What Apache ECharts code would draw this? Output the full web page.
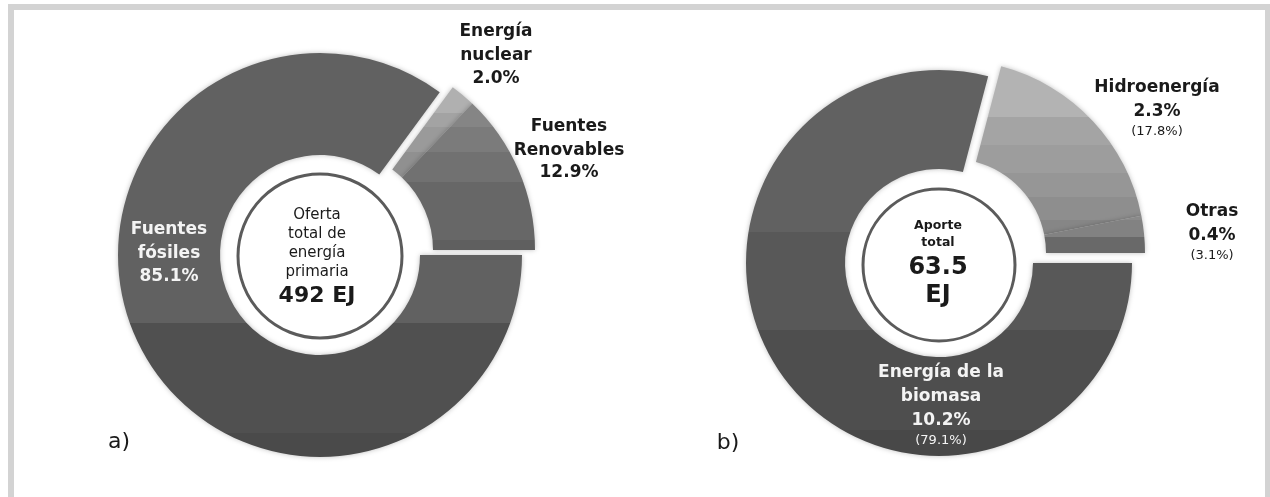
<!DOCTYPE html>
<html>
<head>
<meta charset="utf-8">
<script src="https://cdn.jsdelivr.net/npm/echarts@6/dist/echarts.min.js"></script>
<style>
  html, body { margin: 0; padding: 0; background: #ffffff; overflow: hidden; }
  #chart { width: 1270px; height: 497px; }
</style>
</head>
<body>
<div id="chart"></div>
<script>
// ---- Data ----
// a) Oferta total de energía primaria (492 EJ), shares in %
const leftNames = ['Energía\nnuclear', 'Fuentes\nRenovables', 'Fuentes\nfósiles'];
const leftValues = [2.0, 12.9, 85.1];
const leftCenterLines = ['Oferta', 'total de', 'energía', 'primaria'];
const leftTotal = '492 EJ';

// b) Aporte de las renovables (63.5 EJ): share of total primary energy, and (share of renewables)
const rightNames = ['Hidroenergía', 'Otras', 'Energía de la\nbiomasa'];
const rightShareTotal = [2.3, 0.4, 10.2];
const rightValues = [17.8, 3.1, 79.1];
const rightCenterLines = ['Aporte', 'total'];
const rightTotal = ['63.5', 'EJ'];

const panelTags = ['a)', 'b)'];

// ---- Styles ----
const H = 497;
function bandFill(bands) {
  const cs = [];
  for (let i = 0; i < bands.length; i++) {
    const y0 = bands[i][0] / H;
    const y1 = (i + 1 < bands.length ? bands[i + 1][0] : H) / H;
    cs.push({ offset: y0, color: bands[i][1] }, { offset: y1, color: bands[i][1] });
  }
  return { type: 'linear', x: 0, y: 0, x2: 0, y2: H, global: true, colorStops: cs };
}
const leftFills = [
  bandFill([[0, '#b0b0b0'], [113, '#a3a3a3'], [127, '#9a9a9a'], [152, '#909090']]),
  bandFill([[0, '#858585'], [127, '#7b7b7b'], [152, '#717171'], [182, '#676767'], [240, '#5f5f5f']]),
  bandFill([[0, '#616161'], [323, '#505050'], [433, '#4a4a4a']])
];
const rightFills = [
  bandFill([[0, '#b3b3b3'], [117, '#a4a4a4'], [145, '#9d9d9d'], [173, '#969696'], [197, '#8e8e8e'], [220, '#868686'], [237, '#6c6c6c']]),
  bandFill([[0, '#a0a0a0'], [197, '#8a8a8a'], [220, '#828282'], [237, '#696969']]),
  bandFill([[0, '#616161'], [232, '#585858'], [330, '#4e4e4e'], [430, '#484848']])
];

function donutSeries(names, values, fills, center, shiftedCenter, radius, explodedCount) {
  const total = values.reduce((a, b) => a + b, 0);
  const explodedSum = values.slice(0, explodedCount).reduce((a, b) => a + b, 0);
  const startAngle = explodedSum / total * 360;
  const visible = (i) => ({ color: fills[i], shadowBlur: 5, shadowColor: 'rgba(0,0,0,0.25)' });
  const hidden = { opacity: 0 };
  const common = {
    type: 'pie', radius: radius, startAngle: startAngle, clockwise: true,
    silent: true, animation: false, label: { show: false }, labelLine: { show: false },
    emphasis: { disabled: true }, avoidLabelOverlap: false
  };
  return [
    Object.assign({}, common, {
      center: center,
      data: values.map((v, i) => ({ name: names[i], value: v, itemStyle: i < explodedCount ? hidden : visible(i) }))
    }),
    Object.assign({}, common, {
      center: shiftedCenter,
      data: values.map((v, i) => ({ name: names[i], value: v, itemStyle: i < explodedCount ? visible(i) : hidden }))
    })
  ];
}

const FONT = "'DejaVu Sans', 'Noto Sans', sans-serif";
const DARK = '#1a1a1a';
const LIGHT = '#f4f4f4';
const graphics = [];
function txt(text, x, y, size, weight, color) {
  graphics.push({
    type: 'text', z: 100, silent: true,
    style: { text: text, x: x, y: y, textAlign: 'center', textVerticalAlign: 'middle',
             font: weight + ' ' + size + 'px ' + FONT, fill: color }
  });
}
function block(x, ys, lines, color) {
  lines.forEach((ln, i) => txt(ln.t, x, ys[i], ln.s, ln.w, color));
}
const pct = (v) => v.toFixed(1) + '%';
const splitName = (n) => n.split('\n').map(t => ({ t: t, s: 17, w: 'bold' }));

// frame
graphics.push({ type: 'rect', z: 1, silent: true, shape: { x: 11, y: 7, width: 1257, height: 540 },
  style: { fill: 'none', stroke: '#d3d3d3', lineWidth: 6 } });
// inner rings
graphics.push({ type: 'circle', z: 50, silent: true, shape: { cx: 320, cy: 256, r: 82 },
  style: { fill: 'none', stroke: '#5b5b5b', lineWidth: 3 } });
graphics.push({ type: 'circle', z: 50, silent: true, shape: { cx: 939, cy: 265, r: 76 },
  style: { fill: 'none', stroke: '#5b5b5b', lineWidth: 3 } });

// a) labels
block(496, [32, 56, 79], splitName(leftNames[0]).concat([{ t: pct(leftValues[0]), s: 17, w: 'bold' }]), DARK);
block(569, [127, 151, 173], splitName(leftNames[1]).concat([{ t: pct(leftValues[1]), s: 17, w: 'bold' }]), DARK);
block(169, [230, 254, 277], splitName(leftNames[2]).concat([{ t: pct(leftValues[2]), s: 17, w: 'bold' }]), LIGHT);
block(317, [215, 234, 253, 272, 296],
  leftCenterLines.map(t => ({ t: t, s: 15, w: 'normal' })).concat([{ t: leftTotal, s: 22, w: 'bold' }]), DARK);

// b) labels
block(1157, [88, 112, 132], splitName(rightNames[0]).concat([
  { t: pct(rightShareTotal[0]), s: 17, w: 'bold' }, { t: '(' + pct(rightValues[0]) + ')', s: 13, w: 'normal' }]), DARK);
block(1212, [212, 236, 256], splitName(rightNames[1]).concat([
  { t: pct(rightShareTotal[1]), s: 17, w: 'bold' }, { t: '(' + pct(rightValues[1]) + ')', s: 13, w: 'normal' }]), DARK);
block(941, [373, 397, 421, 441], splitName(rightNames[2]).concat([
  { t: pct(rightShareTotal[2]), s: 17, w: 'bold' }, { t: '(' + pct(rightValues[2]) + ')', s: 13, w: 'normal' }]), LIGHT);
block(938, [226, 243, 268, 296],
  rightCenterLines.map(t => ({ t: t, s: 12.5, w: 'bold' })).concat(rightTotal.map(t => ({ t: t, s: 24, w: 'bold' }))), DARK);

// panel tags
txt(panelTags[0], 119, 442, 22, 'normal', DARK);
txt(panelTags[1], 728, 443, 22, 'normal', DARK);

const chart = echarts.init(document.getElementById('chart'), null, { renderer: 'canvas' });
chart.setOption({
  animation: false,
  backgroundColor: '#ffffff',
  series: [].concat(
    donutSeries(leftNames, leftValues, leftFills, [320, 255], [333, 250], [100, 202], 2),
    donutSeries(rightNames, rightValues, rightFills, [939, 263], [952, 253], [94, 193], 2)
  ),
  graphic: graphics
});
</script>
</body>
</html>
